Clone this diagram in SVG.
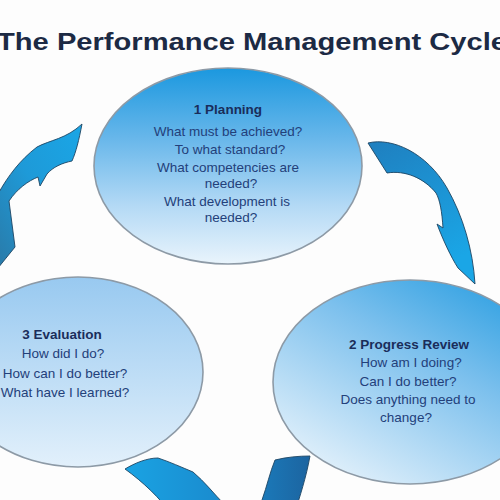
<svg xmlns="http://www.w3.org/2000/svg" width="500" height="500" viewBox="0 0 500 500">
  <defs>
    <style>
      .title { font-family: "Liberation Sans", Arial, sans-serif; font-weight: bold; font-size: 24px; fill: #1c2a44; }
      .head { font-family: "Liberation Sans", Arial, sans-serif; font-weight: bold; font-size: 13.5px; fill: #1a2d5a; text-anchor: middle; }
      .body { font-family: "Liberation Sans", Arial, sans-serif; font-size: 13.5px; fill: #23407a; text-anchor: middle; }
      .bubble { stroke: #8d9aa6; stroke-width: 1.6; }
      .arrow { stroke: #1d4563; stroke-width: 0.9; stroke-linejoin: round; }
    </style>
    <linearGradient id="gTop" x1="0" y1="0" x2="0" y2="1">
      <stop offset="0" stop-color="#1b98df"/>
      <stop offset="0.35" stop-color="#66b6ea"/>
      <stop offset="0.7" stop-color="#b3d9f5"/>
      <stop offset="1" stop-color="#e9f4fc"/>
    </linearGradient>
    <linearGradient id="gLeft" x1="0" y1="0" x2="0" y2="1">
      <stop offset="0" stop-color="#98c9f0"/>
      <stop offset="1" stop-color="#e2f0fb"/>
    </linearGradient>
    <linearGradient id="gRight" x1="1" y1="0" x2="0.25" y2="1">
      <stop offset="0" stop-color="#1b98df"/>
      <stop offset="0.45" stop-color="#7cc0ed"/>
      <stop offset="1" stop-color="#e3f1fb"/>
    </linearGradient>
    <linearGradient id="gArrowTR" x1="0" y1="0" x2="0.4" y2="1">
      <stop offset="0" stop-color="#1f7fbf"/>
      <stop offset="1" stop-color="#1aa6e6"/>
    </linearGradient>
    <linearGradient id="gArrowL" x1="0" y1="1" x2="1" y2="0">
      <stop offset="0" stop-color="#2a7aa8"/>
      <stop offset="0.5" stop-color="#1e9ad8"/>
      <stop offset="1" stop-color="#1aa6e6"/>
    </linearGradient>
    <linearGradient id="gArrowB" x1="0" y1="0" x2="1" y2="0">
      <stop offset="0" stop-color="#1aa3e3"/>
      <stop offset="0.5" stop-color="#1a8ccf"/>
      <stop offset="1" stop-color="#1c64a0"/>
    </linearGradient>
  </defs>

  <rect width="500" height="500" fill="#fdfdfd"/>

  <text class="title" x="-3" y="50" textLength="510" lengthAdjust="spacingAndGlyphs">The Performance Management Cycle</text>

  <g id="connectors">
    <path id="arrow-planning-review" class="arrow" fill="url(#gArrowTR)"
          d="M368,143 C392,137 427,153 447,188 C463,216 473,250 475,284 L458,268 C451,257 443,240 437,224 L443,228 C442,212 440,200 436,193 C424,178 405,170 387,173 Z"/>
    <path id="arrow-review-evaluation" class="arrow" fill="url(#gArrowB)"
          d="M310,456 C306,478 300,496 294,515 L172,515 C160,498 143,482 125,469 C135,463 147,458 158,458 C170,462 181,467 193,472 C205,482 214,494 224,504 C238,514 254,512 262,500 C267,486 270,472 275,460 C287,457 299,456 310,456 Z"/>
    <path id="arrow-evaluation-planning" class="arrow" fill="url(#gArrowL)"
          d="M82,124 C79,140 76,152 72,161 C62,163 53,167 47,174 L40,186 L38,177 C28,181 17,189 9,201 L15,247 L-2,268 L-2,194 C8,176 20,160 37,147 C50,140 66,139 82,124 Z"/>
  </g>

  <g id="node-planning">
    <ellipse class="bubble" cx="228" cy="166" rx="134" ry="98" fill="url(#gTop)"/>
    <text class="head" x="228" y="114">1 Planning</text>
    <text class="body" x="228" y="136">What must be achieved?</text>
    <text class="body" x="230" y="154">To what standard?</text>
    <text class="body" x="228" y="172">What competencies are</text>
    <text class="body" x="231" y="188">needed?</text>
    <text class="body" x="227" y="206">What development is</text>
    <text class="body" x="231" y="222">needed?</text>
  </g>

  <g id="node-evaluation">
    <ellipse class="bubble" cx="78" cy="372" rx="125" ry="95" fill="url(#gLeft)"/>
    <text class="head" x="62" y="339">3 Evaluation</text>
    <text class="body" x="63" y="358">How did I do?</text>
    <text class="body" x="65" y="378">How can I do better?</text>
    <text class="body" x="65" y="397">What have I learned?</text>
  </g>

  <g id="node-review">
    <ellipse class="bubble" cx="410" cy="382" rx="137" ry="102" fill="url(#gRight)"/>
    <text class="head" x="409" y="349">2 Progress Review</text>
    <text class="body" x="411" y="367">How am I doing?</text>
    <text class="body" x="408" y="386">Can I do better?</text>
    <text class="body" x="408" y="404">Does anything need to</text>
    <text class="body" x="406" y="422">change?</text>
  </g>
</svg>
